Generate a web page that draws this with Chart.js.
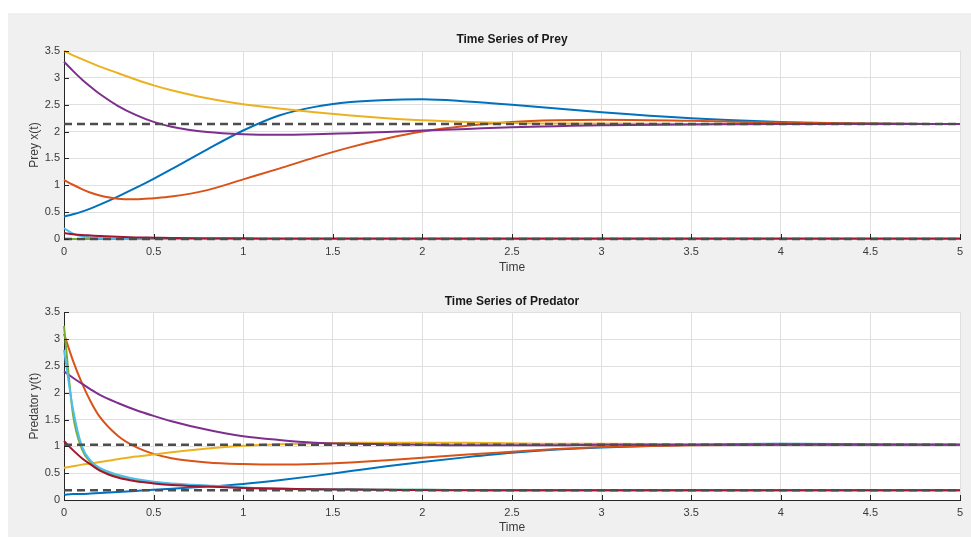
<!DOCTYPE html>
<html>
<head>
<meta charset="utf-8">
<script src="https://cdn.jsdelivr.net/npm/chart.js@4.4.1/dist/chart.umd.min.js"></script>
<style>
  body { margin: 0; background: #ffffff; }
  #figure { position: absolute; left: 8px; top: 13px; width: 963px; height: 524px; background: #f0f0f0; }
  canvas { position: absolute; left: 8px; }
</style>
</head>
<body>
<div id="figure"></div>
<canvas id="preyChart" width="963" height="262" style="top:13px"></canvas>
<canvas id="predatorChart" width="963" height="262" style="top:275px"></canvas>
<script>
// sample times shared by every trajectory
const timePoints = [0, 0.05, 0.1, 0.15, 0.2, 0.3, 0.4, 0.5, 0.6, 0.8, 1, 1.2, 1.4, 1.6, 1.8, 2, 2.25, 2.5, 2.75, 3, 3.5, 4, 4.5, 5];

// prey x(t), one array per initial condition
const preyBlue = [0.42, 0.46, 0.51, 0.57, 0.64, 0.79, 0.95, 1.12, 1.30, 1.67, 2.02, 2.30, 2.46, 2.55, 2.59, 2.60, 2.56, 2.50, 2.43, 2.36, 2.25, 2.18, 2.15, 2.14];
const preyOrange = [1.10, 1.01, 0.93, 0.86, 0.81, 0.75, 0.74, 0.76, 0.79, 0.91, 1.11, 1.31, 1.52, 1.71, 1.87, 2.00, 2.11, 2.18, 2.21, 2.22, 2.20, 2.17, 2.15, 2.14];
const preyYellow = [3.50, 3.42, 3.35, 3.28, 3.21, 3.09, 2.97, 2.86, 2.77, 2.62, 2.51, 2.43, 2.36, 2.30, 2.25, 2.21, 2.18, 2.16, 2.15, 2.15, 2.14, 2.14, 2.14, 2.14];
const preyPurple = [3.30, 3.13, 2.97, 2.83, 2.70, 2.48, 2.31, 2.18, 2.09, 1.99, 1.95, 1.94, 1.95, 1.97, 1.99, 2.02, 2.05, 2.08, 2.10, 2.12, 2.13, 2.14, 2.14, 2.14];
const preyGreen = [0.002, 0.002, 0.002, 0.002, 0.002, 0.002, 0.002, 0.002, 0.002, 0.002, 0.002, 0.002, 0.002, 0.002, 0.002, 0.002, 0.002, 0.002, 0.002, 0.002, 0.002, 0.002, 0.002, 0.002];
const preyLightBlue = [0.20, 0.10, 0.05, 0.03, 0.02, 0.01, 0.005, 0.003, 0.002, 0.001, 0, 0, 0, 0, 0, 0, 0, 0, 0, 0, 0, 0, 0, 0];
const preyRed = [0.11, 0.09, 0.075, 0.065, 0.055, 0.04, 0.03, 0.025, 0.02, 0.015, 0.012, 0.011, 0.01, 0.01, 0.01, 0.01, 0.01, 0.01, 0.01, 0.01, 0.01, 0.01, 0.01, 0.01];

// predator y(t)
const predBlue = [0.10, 0.11, 0.11, 0.12, 0.13, 0.15, 0.17, 0.19, 0.21, 0.25, 0.30, 0.37, 0.45, 0.54, 0.63, 0.71, 0.80, 0.88, 0.94, 0.98, 1.03, 1.05, 1.04, 1.03];
const predOrange = [3.10, 2.60, 2.18, 1.83, 1.55, 1.20, 0.99, 0.86, 0.78, 0.70, 0.67, 0.66, 0.67, 0.70, 0.74, 0.79, 0.85, 0.90, 0.95, 0.99, 1.02, 1.03, 1.03, 1.03];
const predYellow = [0.60, 0.63, 0.66, 0.68, 0.71, 0.76, 0.81, 0.85, 0.89, 0.96, 1.01, 1.04, 1.06, 1.07, 1.07, 1.07, 1.07, 1.06, 1.05, 1.05, 1.04, 1.03, 1.03, 1.03];
const predPurple = [2.40, 2.28, 2.17, 2.06, 1.96, 1.81, 1.68, 1.57, 1.47, 1.31, 1.19, 1.12, 1.07, 1.05, 1.04, 1.03, 1.02, 1.02, 1.02, 1.03, 1.03, 1.03, 1.03, 1.03];
const predGreen = [3.25, 1.60, 0.95, 0.70, 0.57, 0.45, 0.38, 0.33, 0.30, 0.26, 0.23, 0.21, 0.20, 0.20, 0.19, 0.19, 0.185, 0.18, 0.18, 0.18, 0.18, 0.18, 0.18, 0.18];
const predLightBlue = [2.80, 1.70, 1.00, 0.73, 0.60, 0.47, 0.39, 0.34, 0.31, 0.27, 0.235, 0.215, 0.20, 0.20, 0.19, 0.19, 0.185, 0.18, 0.18, 0.18, 0.18, 0.18, 0.18, 0.18];
const predRed = [1.10, 0.93, 0.78, 0.66, 0.55, 0.42, 0.35, 0.31, 0.28, 0.25, 0.225, 0.21, 0.20, 0.195, 0.19, 0.185, 0.18, 0.18, 0.18, 0.18, 0.18, 0.18, 0.18, 0.18];

// equilibrium levels (dashed)
const preyEquilibria = [2.14, 0];
const predatorEquilibria = [1.03, 0.18];
const timeRange = [0, 5];

const lineColors = ['#0072BD', '#D95319', '#EDB120', '#7E2F8E', '#77AC30', '#4DBEEE', '#A2142F'];

Chart.defaults.font.family = '"Liberation Sans", Arial, Helvetica, sans-serif';

function toPoints(values) {
    return values.map(function (v, i) { return { x: timePoints[i], y: v }; });
}

function buildDatasets(seriesList, equilibria) {
    const sets = seriesList.map(function (values, i) {
        return {
            data: toPoints(values),
            borderColor: lineColors[i],
            borderWidth: 2,
            pointRadius: 0,
            cubicInterpolationMode: 'monotone',
            clip: 4,
            order: seriesList.length - i
        };
    });
    equilibria.forEach(function (level) {
        sets.push({
            data: [{ x: timeRange[0], y: level }, { x: timeRange[1], y: level }],
            borderColor: '#4d4d4d',
            borderWidth: 2.5,
            borderDash: [8, 5],
            pointRadius: 0,
            clip: 4,
            order: 0
        });
    });
    return sets;
}

const plotBackground = {
    id: 'plotBackground',
    beforeDraw: function (chart) {
        const a = chart.chartArea;
        chart.ctx.save();
        chart.ctx.fillStyle = '#ffffff';
        chart.ctx.fillRect(a.left, a.top, a.right - a.left, a.bottom - a.top);
        chart.ctx.restore();
    }
};

// MATLAB style tick marks pointing into the axes
const innerTicks = {
    id: 'innerTicks',
    afterDatasetsDraw: function (chart) {
        const ctx = chart.ctx;
        const a = chart.chartArea;
        const xs = chart.scales.x;
        const ys = chart.scales.y;
        ctx.save();
        ctx.strokeStyle = '#262626';
        ctx.lineWidth = 1;
        ctx.beginPath();
        ys.ticks.forEach(function (t) {
            const py = Math.round(ys.getPixelForValue(t.value)) + 0.5;
            ctx.moveTo(a.left, py);
            ctx.lineTo(a.left + 5, py);
        });
        xs.ticks.forEach(function (t) {
            const px = Math.round(xs.getPixelForValue(t.value)) + 0.5;
            ctx.moveTo(px, a.bottom);
            ctx.lineTo(px, a.bottom - 5);
        });
        ctx.stroke();
        ctx.restore();
    }
};

function plainNumber(value) {
    return String(Math.round(value * 10) / 10);
}

function makeChart(canvasId, title, yLabel, seriesList, equilibria, xAxisHeight, titleBottomPad, xTitlePad) {
    const canvas = document.getElementById(canvasId);
    return new Chart(canvas.getContext('2d'), {
        type: 'line',
        data: { datasets: buildDatasets(seriesList, equilibria) },
        options: {
            responsive: false,
            animation: false,
            events: [],
            layout: { padding: { left: 0, right: 11, top: 0, bottom: 0 } },
            plugins: {
                legend: { display: false },
                tooltip: { enabled: false },
                title: {
                    display: true,
                    text: title,
                    fullSize: false,
                    color: '#1a1a1a',
                    font: { size: 12, weight: 'bold' },
                    padding: { top: 19, bottom: titleBottomPad }
                }
            },
            scales: {
                x: {
                    type: 'linear',
                    min: timeRange[0],
                    max: timeRange[1],
                    afterFit: function (scale) { scale.height = xAxisHeight; },
                    ticks: { stepSize: 0.5, color: '#3a3a3a', font: { size: 11 }, padding: 6, maxRotation: 0, callback: plainNumber },
                    grid: { color: '#dfdfdf', drawTicks: false },
                    border: { color: '#262626', width: 1 },
                    title: { display: true, text: 'Time', color: '#3a3a3a', font: { size: 12 }, padding: { top: 0, bottom: xTitlePad } }
                },
                y: {
                    type: 'linear',
                    min: 0,
                    max: 3.5,
                    afterFit: function (scale) { scale.width = 56; },
                    ticks: { stepSize: 0.5, color: '#3a3a3a', font: { size: 11 }, padding: 4, callback: plainNumber },
                    grid: { color: '#dfdfdf', drawTicks: false },
                    border: { color: '#262626', width: 1 },
                    title: { display: true, text: yLabel, color: '#3a3a3a', font: { size: 12 }, padding: { top: 19, bottom: 0 } }
                }
            }
        },
        plugins: [plotBackground, innerTicks]
    });
}

makeChart('preyChart', 'Time Series of Prey', 'Prey x(t)',
    [preyBlue, preyOrange, preyYellow, preyPurple, preyGreen, preyLightBlue, preyRed],
    preyEquilibria, 36, 4.6, 0);

makeChart('predatorChart', 'Time Series of Predator', 'Predator y(t)',
    [predBlue, predOrange, predYellow, predPurple, predGreen, predLightBlue, predRed],
    predatorEquilibria, 37, 4, 2);
</script>
</body>
</html>
